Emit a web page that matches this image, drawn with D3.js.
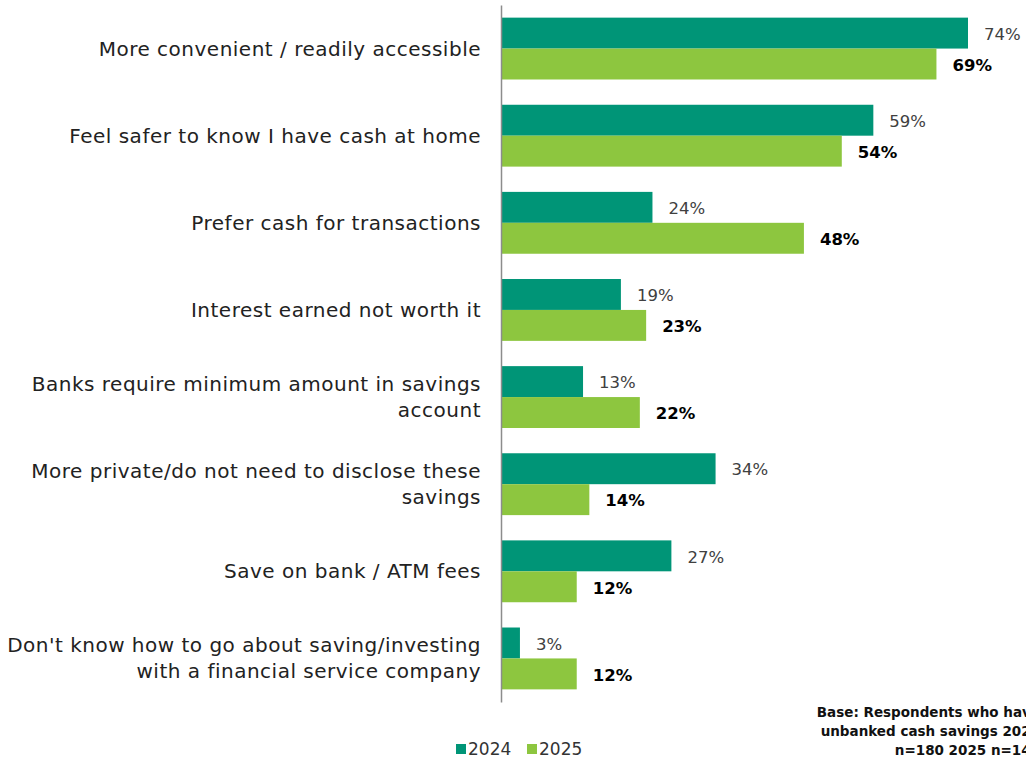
<!DOCTYPE html>
<html>
<head>
<meta charset="utf-8">
<script src="https://cdn.jsdelivr.net/npm/d3@7"></script>
<style>
  body { margin: 0; background: #fff; }
  svg { display: block; font-family: "Century Gothic", "DejaVu Sans", sans-serif; }
</style>
</head>
<body>
<div class="chart"></div>
<script>
// data
var categories = [
  ["More convenient / readily accessible"],
  ["Feel safer to know I have cash at home"],
  ["Prefer cash for transactions"],
  ["Interest earned  not worth it"],
  ["Banks require minimum amount in savings", "account"],
  ["More private/do not need to disclose these", "savings"],
  ["Save on bank / ATM fees"],
  ["Don't know how to go about saving/investing", "with a financial service company"]
];
var values2024 = [74, 59, 24, 19, 13, 34, 27, 3];
var values2025 = [69, 54, 48, 23, 22, 14, 12, 12];
var seriesNames = ["2024", "2025"];
var baseNote = ["Base: Respondents who have", "unbanked cash savings 2024", "n=180 2025 n=146"];

var svgWidth = 1026;
var svgHeight = 759;

var colors = { "2024": "#009577", "2025": "#8DC63F" };

var svg = d3.select(".chart")
  .append("svg")
  .attr("width", svgWidth)
  .attr("height", svgHeight);

var data = categories.map(function(c, i) {
  return { label: c, v2024: values2024[i], v2025: values2025[i] };
});

var x0 = 501;
var xScale = d3.scaleLinear()
  .domain([0, 74])
  .range([x0, 968]);

var yScale = d3.scaleBand()
  .domain(d3.range(categories.length))
  .range([5, 702])
  .paddingInner(0.29)
  .paddingOuter(0.145);

var ySub = d3.scaleBand()
  .domain(seriesNames)
  .range([0, yScale.bandwidth()]);

var groups = svg.selectAll(".grp")
  .data(data)
  .enter()
  .append("g")
  .attr("class", "grp")
  .attr("transform", (d, i) => `translate(0, ${yScale(i)})`);

seriesNames.forEach(function(s) {
  groups.append("rect")
    .attr("x", x0)
    .attr("y", ySub(s))
    .attr("width", d => xScale(d["v" + s]) - x0)
    .attr("height", ySub.bandwidth())
    .attr("fill", colors[s]);

  groups.append("text")
    .attr("x", d => xScale(d["v" + s]) + 16)
    .attr("y", ySub(s) + ySub.bandwidth() / 2 + 1)
    .attr("dy", "0.35em")
    .attr("font-size", "16.5px")
    .attr("font-weight", s === "2025" ? "bold" : "normal")
    .attr("fill", s === "2025" ? "#000" : "#404040")
    .text(d => d["v" + s] + "%");
});

// category labels
groups.each(function(d) {
  var g = d3.select(this);
  var n = d.label.length;
  var lh = 26;
  var cy = yScale.bandwidth() / 2;
  d.label.forEach(function(line, j) {
    g.append("text")
      .attr("x", 481)
      .attr("y", cy + (j - (n - 1) / 2) * lh)
      .attr("dy", "0.35em")
      .attr("text-anchor", "end")
      .attr("font-size", "20px")
      .attr("letter-spacing", "0.5px")
      .attr("fill", "#222")
      .text(line);
  });
});

// axis line
var yAxis = d3.axisLeft(yScale).tickSize(0).tickFormat("");
svg.append("g")
  .attr("transform", `translate(${x0}, 0)`)
  .call(yAxis)
  .call(g => g.select(".domain").attr("stroke", "#8c8c8c").attr("stroke-width", 1.5));

// legend
var legend = svg.append("g").attr("transform", "translate(456, 749)");
var legX = [0, 71];
seriesNames.forEach(function(s, i) {
  legend.append("rect")
    .attr("x", legX[i])
    .attr("y", -5)
    .attr("width", 10)
    .attr("height", 10)
    .attr("fill", colors[s]);
  legend.append("text")
    .attr("x", legX[i] + 12)
    .attr("y", 0)
    .attr("dy", "0.35em")
    .attr("font-size", "17px")
    .attr("fill", "#333")
    .text(s);
});

// base note (cut off at the right edge as in the source)
svg.append("g")
  .selectAll("text")
  .data(baseNote)
  .enter()
  .append("text")
  .attr("x", 1040)
  .attr("y", (d, i) => 712 + i * 19)
  .attr("dy", "0.35em")
  .attr("text-anchor", "end")
  .attr("font-size", "13.5px")
  .attr("font-weight", "bold")
  .attr("fill", "#111")
  .text(d => d);
</script>
</body>
</html>
